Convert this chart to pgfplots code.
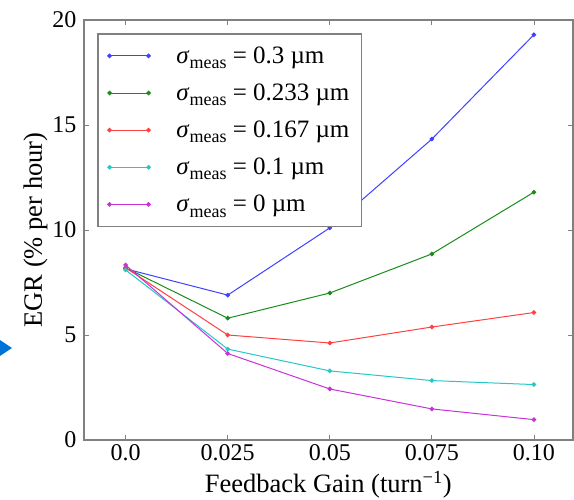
\documentclass[border=0pt]{standalone}
\usepackage{fontspec}
\setmainfont{Liberation Serif}
\usepackage{pgfplots}
\pgfplotsset{compat=1.18}
\definecolor{mblue}{rgb}{0.25,0.25,1}
\definecolor{mgreen}{rgb}{0.1,0.55,0.1}
\definecolor{mred}{rgb}{1,0.25,0.25}
\definecolor{mcyan}{rgb}{0.15,0.78,0.78}
\definecolor{mmag}{rgb}{0.78,0.2,0.85}
\definecolor{spine}{gray}{0.5}
\definecolor{arrowblue}{rgb}{0,0.45,0.85}
\newcommand{\sig}[1]{\hspace*{24pt}\textit{σ}\raisebox{-0.45ex}{\fontsize{18}{18}\selectfont meas} = #1 µm}
\begin{document}
\begin{tikzpicture}[x=1pt,y=1pt]
\begin{axis}[
  at={(0pt,0pt)}, anchor=south west,
  scale only axis, width=488.7pt, height=420pt,
  xmin=-0.0102, xmax=0.1095, ymin=0, ymax=20,
  xtick={0,0.025,0.05,0.075,0.1},
  xticklabels={0.0,0.025,0.05,0.075,0.10},
  ytick={0,5,10,15,20},
  tick align=inside, major tick length=5pt,
  axis line style={spine, line width=1.6pt},
  tick style={spine, line width=0.8pt},
  /pgf/number format/assume math mode=true,
  ticklabel style={font=\fontsize{24}{28}\selectfont},
  xticklabel style={yshift=-1pt},
  yticklabel style={xshift=-4pt},
  label style={font=\fontsize{26.5}{31}\selectfont},
  xlabel={Feedback Gain (turn\textsuperscript{−1})},
  ylabel={EGR (\% per hour)},
  xlabel style={yshift=-4pt},
  ylabel style={yshift=-2pt},
  legend cell align=left,
  legend style={at={(0.0266,0.969)}, anchor=north west, draw=spine, line width=1.6pt,
    font=\fontsize{25}{29}\selectfont, row sep=15pt, inner xsep=10pt, inner ysep=11pt},
  legend image code/.code={\draw[#1, line width=1pt] plot coordinates {(0pt,0pt) (39pt,0pt)};},
  every axis plot/.append style={line width=1pt, mark=*, mark size=1.8pt},
]
\addplot[mblue] coordinates {(0,8.15) (0.025,6.9) (0.05,10.1) (0.075,14.33) (0.1,19.3)};
\addlegendentry{\sig{0.3}}
\addplot[mgreen] coordinates {(0,8.2) (0.025,5.8) (0.05,7.0) (0.075,8.86) (0.1,11.8)};
\addlegendentry{\sig{0.233}}
\addplot[mred] coordinates {(0,8.2) (0.025,5.0) (0.05,4.62) (0.075,5.38) (0.1,6.07)};
\addlegendentry{\sig{0.167}}
\addplot[mcyan] coordinates {(0,8.1) (0.025,4.33) (0.05,3.29) (0.075,2.83) (0.1,2.64)};
\addlegendentry{\sig{0.1}}
\addplot[mmag] coordinates {(0,8.33) (0.025,4.12) (0.05,2.43) (0.075,1.48) (0.1,0.97)};
\addlegendentry{\sig{0}}
\end{axis}
\fill[arrowblue] (-84pt,100pt) -- (-72pt,92pt) -- (-84pt,84pt) -- cycle;
\pgfresetboundingbox
\path (-84pt,-59pt) rectangle (490pt,440pt);
\end{tikzpicture}
\end{document}
